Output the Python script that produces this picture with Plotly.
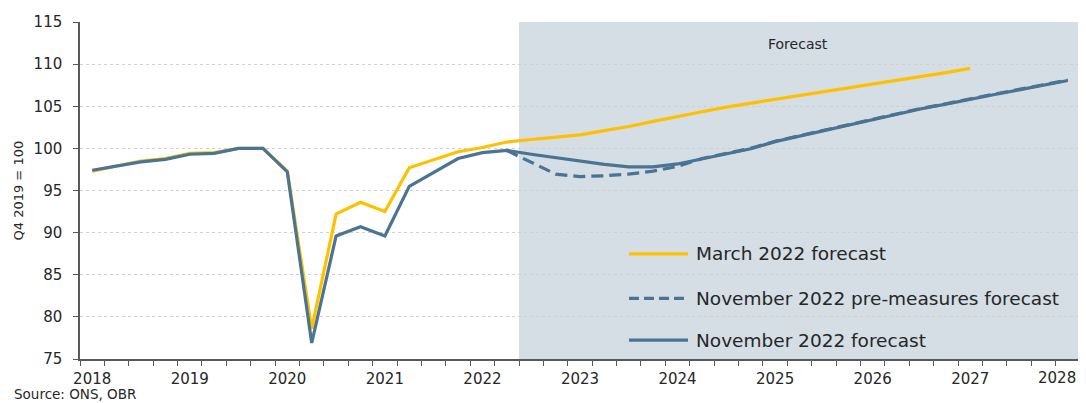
import plotly.graph_objects as go

# ---- data ----
years = list(range(2018, 2029))
quarters = [f"{y} Q{q}" for y in years for q in range(1, 5)][:41]

march_2022 = [97.3, 97.9, 98.5, 98.8, 99.4, 99.5, 100.0, 100.0, 97.3, 78.6,
              92.2, 93.6, 92.5, 97.7, 98.7, 99.6, 100.1, 100.75, 101.05, 101.3,
              101.6, 102.1, 102.6, 103.2, 103.8, 104.35, 104.9, 105.35, 105.8, 106.25,
              106.7, 107.15, 107.6, 108.1, 108.55, 109.0, 109.5]

nov_2022 = [97.4, 97.9, 98.4, 98.7, 99.3, 99.4, 100.0, 100.0, 97.2, 76.9,
            89.6, 90.7, 89.6, 95.5, 97.2, 98.8, 99.5, 99.75, 99.3, 98.9,
            98.5, 98.1, 97.8, 97.8, 98.15, 98.75, 99.35, 99.95, 100.8, 101.45,
            102.1, 102.75, 103.45, 104.1, 104.7, 105.25, 105.85, 106.4, 106.95, 107.5,
            108.05]

nov_pre_measures = [None] * 17 + [99.75, 98.4, 96.95, 96.65, 96.75, 96.95, 97.3, 97.85,
                                  98.8, 99.4, 100.0, 100.85, 101.5, 102.15, 102.8, 103.5,
                                  104.15, 104.75, 105.3, 105.9, 106.45, 107.0, 107.55, 108.1]

forecast_start = 17.5   # boundary between 2022 Q2 and 2022 Q3
forecast_end = 40.5

ORANGE = "#FFC000"
BLUE = "#4A7394"
TEXT = "#262626"
FONT = "DejaVu Sans"

fig = go.Figure()
fig.add_trace(go.Scatter(x=quarters[:len(march_2022)], y=march_2022, mode="lines",
                         name="March 2022 forecast",
                         line=dict(color=ORANGE, width=3.2)))
fig.add_trace(go.Scatter(x=quarters, y=nov_2022, mode="lines",
                         name="November 2022 forecast",
                         line=dict(color=BLUE, width=3.2)))
fig.add_trace(go.Scatter(x=quarters, y=nov_pre_measures, mode="lines",
                         name="November 2022 pre-measures forecast",
                         line=dict(color=BLUE, width=3.2, dash="12px,6px")))

# forecast shading
fig.add_shape(type="rect", xref="x", yref="paper", x0=forecast_start, x1=forecast_end,
              y0=0, y1=1, fillcolor="#D4DEE4", line_width=0, layer="below")

# year labels on Q1 categories; the last one is drawn right-aligned so it stays in the frame
ticktext = [q[:4] if (q.endswith("Q1") and q != quarters[-1]) else "" for q in quarters]

fig.update_xaxes(type="category", categoryorder="array", categoryarray=quarters,
                 range=[-0.5, 40.5], tickmode="array", tickvals=quarters, ticktext=ticktext,
                 tickson="boundaries", ticks="outside", ticklen=5, tickcolor="#595959",
                 showline=True, linecolor="#595959", linewidth=1.5, showgrid=False,
                 tickangle=0, ticklabelstandoff=5,
                 tickfont=dict(family=FONT, size=15, color=TEXT), automargin=False)
fig.update_yaxes(range=[75, 115], tick0=75, dtick=5, ticks="outside", ticklen=5,
                 tickcolor="#595959", showline=True, linecolor="#595959", linewidth=1.5,
                 showgrid=True, gridcolor="#D0D0D0", griddash="dot", gridwidth=1,
                 zeroline=False, ticklabelstandoff=8,
                 tickfont=dict(family=FONT, size=15, color=TEXT), automargin=False)

fig.add_annotation(xref="paper", yref="paper", x=0.998, y=-0.056, text=quarters[-1][:4],
                   showarrow=False, xanchor="right", yanchor="middle",
                   font=dict(family=FONT, size=15, color=TEXT))

# manual legend (long line samples as in the original)
legend_items = [("March 2022 forecast", ORANGE, "solid", 0.312),
                ("November 2022 pre-measures forecast", BLUE, "dash", 0.180),
                ("November 2022 forecast", BLUE, "solid", 0.056)]
for label, col, dash, yp in legend_items:
    fig.add_shape(type="line", xref="paper", yref="paper", x0=0.549, x1=0.608, y0=yp, y1=yp,
                  line=dict(color=col, width=3.2, dash="10px,5px" if dash == "dash" else "solid"))
    fig.add_annotation(xref="paper", yref="paper", x=0.614, y=yp, text=label, showarrow=False,
                       xanchor="left", yanchor="middle",
                       font=dict(family=FONT, size=18.5, color=TEXT))

fig.add_annotation(xref="paper", yref="paper", x=0.718, y=0.935, text="Forecast",
                   showarrow=False, xanchor="center", yanchor="middle",
                   font=dict(family=FONT, size=14, color=TEXT))
fig.add_annotation(xref="paper", yref="paper", x=-0.062, y=0.5, text="Q4 2019 = 100",
                   textangle=-90, showarrow=False, xanchor="center", yanchor="middle",
                   font=dict(family=FONT, size=13, color=TEXT))
fig.add_annotation(xref="paper", yref="paper", x=-0.068, y=-0.104, text="Source: ONS, OBR",
                   showarrow=False, xanchor="left", yanchor="middle",
                   font=dict(family=FONT, size=13.5, color=TEXT))

# the page body adds an 8px margin, so the figure is sized/offset to land where the original sits
fig.update_layout(width=1078, height=395, margin=dict(l=72, r=6, t=14, b=44),
                  paper_bgcolor="white", plot_bgcolor="white", showlegend=False,
                  font=dict(family=FONT, color=TEXT))

fig.write_html("out.html")
